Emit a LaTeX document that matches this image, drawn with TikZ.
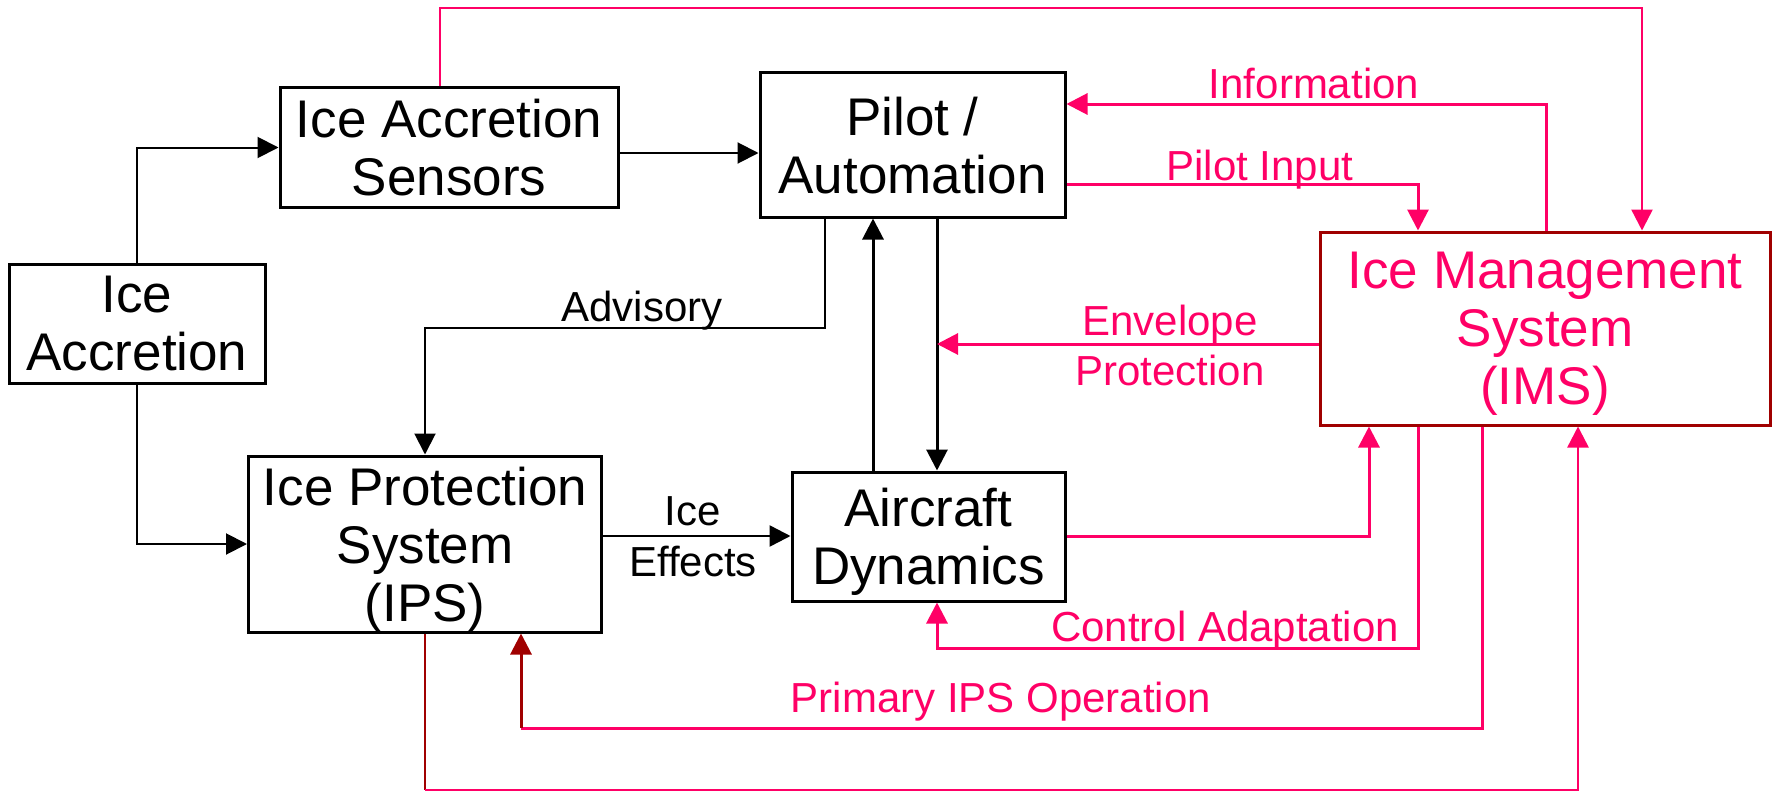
\documentclass[tikz,border=0pt]{standalone}
\usepackage{fontspec}
\setmainfont{Liberation Sans}
\usetikzlibrary{arrows.meta}
\definecolor{imspink}{RGB}{255,0,102}
\definecolor{imsred}{RGB}{160,0,0}
\begin{document}
\begin{tikzpicture}[x=1pt,y=-1pt,
  box/.style={draw=black,line width=3pt,inner sep=0pt,align=center,
    font=\fontsize{53}{58}\selectfont,text depth=0pt},
  arr/.style={-{Triangle[length=21pt,width=21pt]}},
  link/.style={arr,line width=2pt,black},
  heavy/.style={arr,line width=3pt,black},
  plink/.style={arr,line width=3pt,imspink},
  lbl/.style={font=\fontsize{42}{46}\selectfont,inner sep=0pt,anchor=base},
  plbl/.style={lbl,text=imspink},
]
\useasboundingbox (0,0) rectangle (1773,792);

% blocks
\node[box,minimum width=256,minimum height=119] (ia) at (137,323.5) {Ice\\Accretion};
\node[box,minimum width=338,minimum height=119] (sens) at (449,147.5) {Ice Accretion\\Sensors};
\node[box,minimum width=305,minimum height=144] (pilot) at (912.5,145) {Pilot /\\Automation};
\node[box,minimum width=353,minimum height=176] (ips) at (425,544) {Ice Protection\\System\\(IPS)};
\node[box,minimum width=273,minimum height=129] (ad) at (928.5,536.5) {Aircraft\\Dynamics};
\node[box,draw=imsred,text=imspink,minimum width=450,minimum height=193] (ims) at (1545,328.5) {Ice Management\\System\\(IMS)};

% routing points
\coordinate (s2p) at ([yshift=-5.5pt]sens.east);
\coordinate (advx) at (825,328);
\coordinate (upx) at (873,0);
\coordinate (dnx) at (937,0);
\coordinate (effy) at (0,536);
\coordinate (topl) at (440,8);
\coordinate (topr) at (1642,8);
\coordinate (infr) at (1546,104);
\coordinate (pinr) at (1418,184);
\coordinate (envy) at (937,344);
\coordinate (a2i) at (1369,536);
\coordinate (cal) at (937,648);
\coordinate (car) at (1418,648);
\coordinate (ppl) at (521,728);
\coordinate (ppr) at (1482,728);
\coordinate (bly) at (0,790);
\coordinate (br) at (1578,790);
\coordinate (bl) at (ips.south |- bly);

% black signal paths
\draw[link] (ia.north) |- (sens.west);
\draw[link] (ia.south) |- (ips.west);
\draw[link] (s2p) -- (s2p -| pilot.west);
\draw[link] (pilot.south -| advx) -- (advx) -| (ips.north);
\draw[heavy] (ad.north -| upx) -- (pilot.south -| upx);
\draw[heavy] (pilot.south -| dnx) -- (ad.north -| dnx);
\draw[link,line width=2.5pt] (ips.east |- effy) -- (ad.west |- effy);

\node[lbl] (advlbl) at (642,321) {Advisory};
\node[lbl] (icelbl) at (693,525) {Ice};
\node[lbl] (efflbl) at (693,576) {Effects};

% ice management paths
\draw[plink,line width=2.5pt] (sens.north -| topl) -- (topl) -- (topr) -- (ims.north -| topr);
\draw[plink] (ims.north -| infr) -- (infr) -- (infr -| pilot.east);
\draw[plink] (pilot.east |- pinr) -- (pinr) -- (ims.north -| pinr);
\draw[plink] (ims.west |- envy) -- (envy);
\draw[plink] (ad.east |- a2i) -- (a2i) -- (ims.south -| a2i);
\draw[plink] (ims.south -| car) -- (car) -- (cal) -- (ad.south -| cal);
\draw[line width=3pt,imspink] (ims.south -| ppr) -- (ppr) -- (ppl);
\draw[arr,line width=3pt,imsred] (ppl) -- (ips.south -| ppl);
\draw[line width=2pt,imsred] (ips.south) -- (bl);
\draw[arr,line width=2.5pt,imspink] (bl) -- (br) -- (ims.south -| br);

\node[plbl] (inflbl) at (1314,99) {Information};
\node[plbl] (pinlbl) at (1260,180) {Pilot Input};
\node[plbl] (envlbl) at (1170,335) {Envelope};
\node[plbl] (prolbl) at (1170,385) {Protection};
\node[plbl] (calbl) at (1225,641) {Control Adaptation};
\node[plbl] (pplbl) at (1001,712) {Primary IPS Operation};
\end{tikzpicture}
\end{document}
